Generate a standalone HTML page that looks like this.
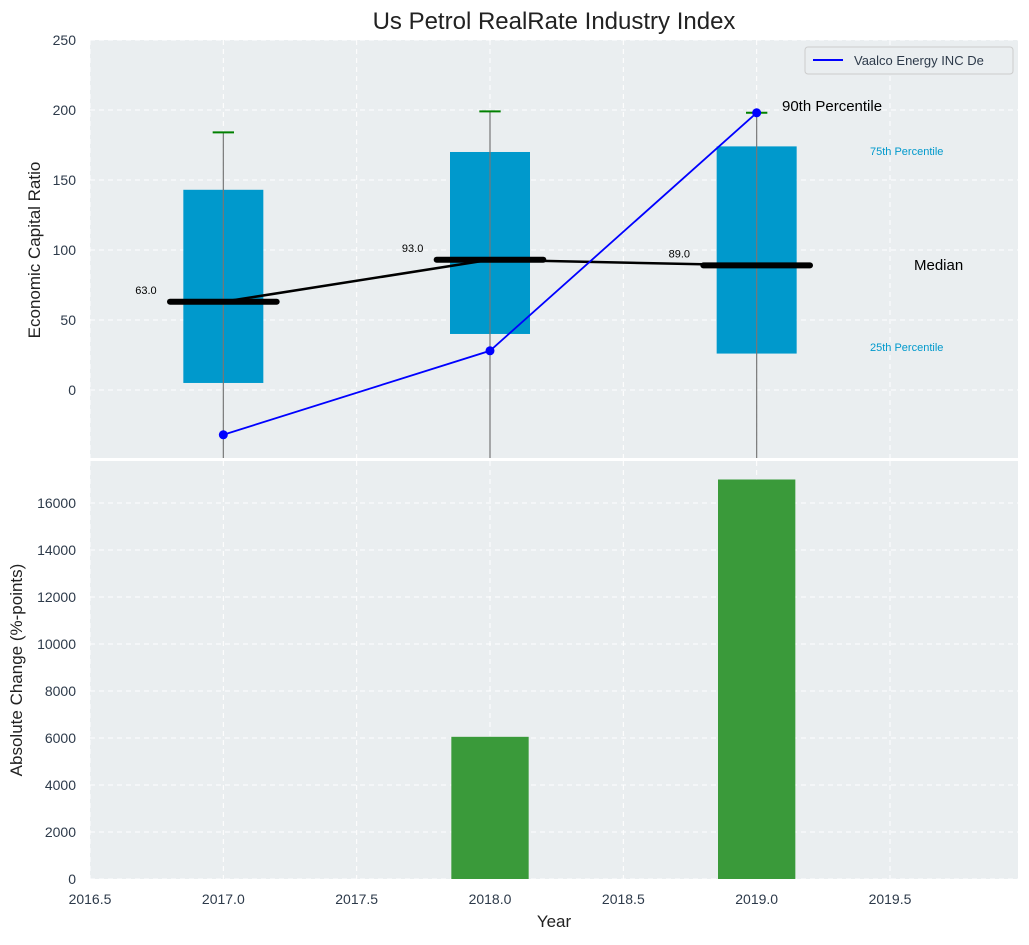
<!DOCTYPE html>
<html><head><meta charset="utf-8">
<style>
body{margin:0;background:#fff;font-family:"Liberation Sans","DejaVu Sans",sans-serif;}
svg text{font-family:"Liberation Sans","DejaVu Sans",sans-serif;}
</style></head>
<body>
<svg id="c" width="1029" height="940" xmlns="http://www.w3.org/2000/svg"></svg>
<script>
const years=[2017,2018,2019];
const p25=[5,40,26];
const p75=[143,170,174];
const p90=[184,199,198];
const medians=[63,93,89];
const company=[-32,28,198];
const absChange=[0,6050,17000];
const topTicks=[0,50,100,150,200,250];
const botTicks=[0,2000,4000,6000,8000,10000,12000,14000,16000];
const xTicks=[2016.5,2017.0,2017.5,2018.0,2018.5,2019.0,2019.5];

const NS="http://www.w3.org/2000/svg";
const svg=document.getElementById('c');
function el(t,a,txt){const e=document.createElementNS(NS,t);for(const k in a)e.setAttribute(k,a[k]);if(txt!==undefined)e.textContent=txt;svg.appendChild(e);return e;}
const L=90,R=1018;
const X=v=>L+(v-2016.5)*(R-L)/(2019.98-2016.5);
const T0=40,T1=458,B0=461,B1=879;
const Y1=v=>T0+(250-v)*(T1-T0)/(250-(-48.6));
const Y2=v=>B1-v*(B1-B0)/17787;

let e;
e=el('rect',{x:L,y:T0,width:R-L,height:T1-T0,fill:'#eaeef0'});

e=el('rect',{x:L,y:B0,width:R-L,height:B1-B0,fill:'#eaeef0'});


// grids
xTicks.forEach(t=>{
 e=el('line',{x1:X(t),x2:X(t),y1:T0,y2:T1,stroke:'#fff','stroke-dasharray':'5,4'});
 
 e=el('line',{x1:X(t),x2:X(t),y1:B0,y2:B1,stroke:'#fff','stroke-dasharray':'5,4'});
 
 e=el('text',{x:X(t),y:904,'text-anchor':'middle','font-size':14,fill:'#2d3a4a'},t.toFixed(1));
 
});
topTicks.forEach(t=>{
 e=el('line',{x1:L,x2:R,y1:Y1(t),y2:Y1(t),stroke:'#fff','stroke-dasharray':'5,4'});
 
 e=el('text',{x:76,y:Y1(t)+5,'text-anchor':'end','font-size':14,fill:'#2d3a4a'},t);
 
});
botTicks.forEach(t=>{
 e=el('line',{x1:L,x2:R,y1:Y2(t),y2:Y2(t),stroke:'#fff','stroke-dasharray':'5,4'});
 
 e=el('text',{x:76,y:Y2(t)+5,'text-anchor':'end','font-size':14,fill:'#2d3a4a'},t);
 
});

// boxes
years.forEach((y,i)=>{
 e=el('rect',{x:X(y-0.15),y:Y1(p75[i]),width:X(y+0.15)-X(y-0.15),height:Y1(p25[i])-Y1(p75[i]),fill:'#0099cc'});
 
 e=el('line',{x1:X(y),x2:X(y),y1:Y1(p90[i]),y2:T1,stroke:'#777','stroke-width':1.2});
 
 e=el('line',{x1:X(y-0.04),x2:X(y+0.04),y1:Y1(p90[i]),y2:Y1(p90[i]),stroke:'green','stroke-width':2});
 
 e=el('line',{x1:X(y-0.2),x2:X(y+0.2),y1:Y1(medians[i]),y2:Y1(medians[i]),stroke:'#000','stroke-width':6,'stroke-linecap':'round'});
 
 e=el('text',{x:X(y-0.25),y:Y1(medians[i])-8,'text-anchor':'end','font-size':11,fill:'#000'},medians[i].toFixed(1));
 
});
e=el('polyline',{points:years.map((y,i)=>X(y)+','+Y1(medians[i])).join(' '),fill:'none',stroke:'#000','stroke-width':2.5});

e=el('polyline',{points:years.map((y,i)=>X(y)+','+Y1(company[i])).join(' '),fill:'none',stroke:'blue','stroke-width':1.8});

years.forEach((y,i)=>{
 e=el('circle',{cx:X(y),cy:Y1(company[i]),r:4.5,fill:'blue'});
 
});
// annotations
const ann=[['90th Percentile',782,111,15,'#000'],['75th Percentile',870,155,11,'#0099cc'],['Median',914,270,15,'#000'],['25th Percentile',870,351,11,'#0099cc']];
ann.forEach(a=>{e=el('text',{x:a[1],y:a[2],'font-size':a[3],fill:a[4]},a[0]);
 });

// bars
years.forEach((y,i)=>{
 if(absChange[i]<=0)return;
 e=el('rect',{x:X(y-0.145),y:Y2(absChange[i]),width:X(y+0.145)-X(y-0.145),height:Y2(0)-Y2(absChange[i]),fill:'#3a9a3a'});
 
});

// legend
e=el('rect',{x:805,y:47,width:208,height:27,fill:'#eaeef0',stroke:'#ccc',rx:3});

e=el('line',{x1:813,x2:843,y1:60,y2:60,stroke:'blue','stroke-width':2});

e=el('text',{x:854,y:65,'font-size':13,fill:'#2d3a4a'},'Vaalco Energy INC De');


// titles
e=el('text',{x:554,y:29,'text-anchor':'middle','font-size':24,fill:'#222'},'Us Petrol RealRate Industry Index');

e=el('text',{x:554,y:927,'text-anchor':'middle','font-size':17,fill:'#222'},'Year');

e=el('text',{x:40,y:250,'text-anchor':'middle','font-size':17,fill:'#222',transform:'rotate(-90 40 250)'},'Economic Capital Ratio');

e=el('text',{x:22,y:670,'text-anchor':'middle','font-size':17,fill:'#222',transform:'rotate(-90 22 670)'},'Absolute Change (%-points)');

</script>
</body></html>
